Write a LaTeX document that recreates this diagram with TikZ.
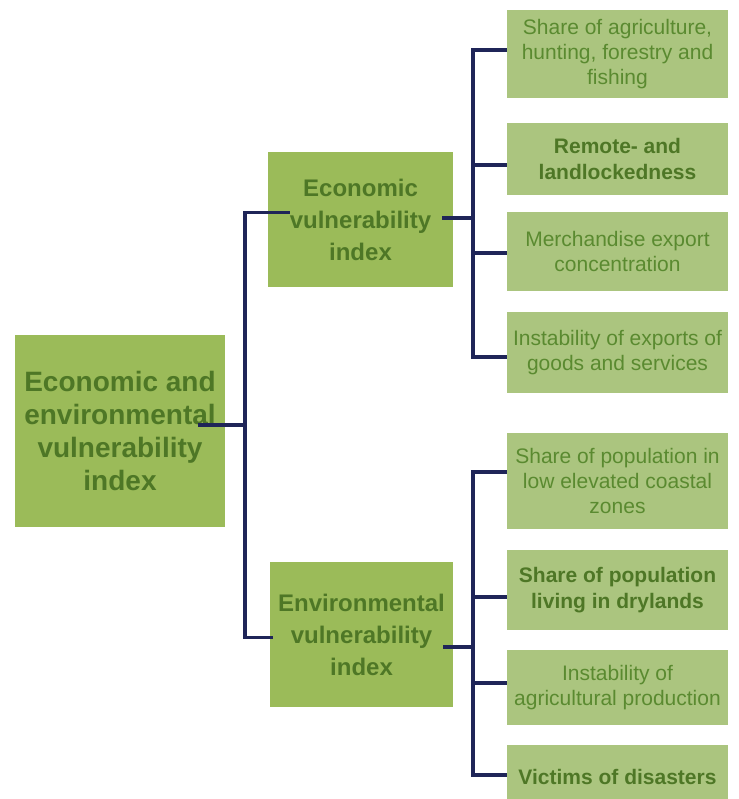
\documentclass[tikz,border=0pt]{standalone}
\usepackage{fontspec}
\setmainfont{Liberation Sans}
\definecolor{boxdark}{HTML}{9BBB59}
\definecolor{boxlight}{HTML}{ABC57F}
\definecolor{txtdark}{HTML}{4E7726}
\definecolor{txtlight}{HTML}{5A8A30}
\definecolor{navy}{HTML}{1F2558}
\begin{document}
\begin{tikzpicture}[x=1pt,y=-1pt,
  bigbox/.style={fill=boxdark,draw=none,inner sep=0pt,align=center,text=txtdark,font=\bfseries},
  leafbox/.style={fill=boxlight,draw=none,inner sep=0pt,align=center,text=txtlight,
     minimum width=221pt,font=\fontsize{21}{25}\selectfont},
  leafbold/.style={leafbox,text=txtdark,font=\fontsize{21}{26}\selectfont\bfseries},
  conn/.style={draw=navy,line width=3.4pt,line join=miter}]
\useasboundingbox (0,0) rectangle (738,799);
\begin{scope}
\clip (0,0) rectangle (738,799);
% main boxes
\node[bigbox,minimum width=210pt,minimum height=192pt,font=\fontsize{28}{33}\selectfont\bfseries]
  (root) at (120,431) {Economic and\\environmental\\vulnerability\\index};
\node[bigbox,minimum width=185pt,minimum height=135pt,font=\fontsize{24}{32}\selectfont\bfseries]
  (eco) at (360.5,219.5) {Economic\\vulnerability\\index};
\node[bigbox,minimum width=183pt,minimum height=145pt,font=\fontsize{24}{32}\selectfont\bfseries]
  (env) at (361.5,634.5) {Environmental\\vulnerability\\index};
% leaves
\node[leafbox,minimum height=88pt] (r1) at (617.5,54) {Share of agriculture,\\hunting, forestry and\\fishing};
\node[leafbold,minimum height=72pt] (r2) at (617.5,159) {Remote- and\\landlockedness};
\node[leafbox,minimum height=79pt] (r3) at (617.5,251.5) {Merchandise export\\concentration};
\node[leafbox,minimum height=81pt] (r4) at (617.5,352.5) {Instability of exports of\\goods and services};
\node[leafbox,minimum height=96pt] (r5) at (617.5,481) {Share of population in\\low elevated coastal\\zones};
\node[leafbold,minimum height=80pt] (r6) at (617.5,590) {Share of population\\living in drylands};
\node[leafbox,minimum height=75pt] (r7) at (617.5,687.5) {Instability of\\agricultural production};
\node[leafbold,minimum height=63pt] (r8) at (617.5,776.5) {Victims of disasters};
% connectors
\coordinate (busL) at (245,425);
\coordinate (busE) at (473,218);
\coordinate (busV) at (473,647);
\draw[conn] ([shift={(-27,-6)}]root.east) -- (busL);
\draw[conn] ([shift={(22,-7)}]eco.west) -| (busL) |- ([shift={(3,3)}]env.west);
\draw[conn] ([shift={(-11,-1.5)}]eco.east) -- (busE);
\draw[conn] ([shift={(0,-4)}]r1.west) -| (busE) |- ([shift={(0,4.5)}]r4.west);
\draw[conn] (busE) |- ([shift={(0,6)}]r2.west);
\draw[conn] (busE) |- ([shift={(0,1.5)}]r3.west);
\draw[conn] ([shift={(-10,12.5)}]env.east) -- (busV);
\draw[conn] ([shift={(0,-9)}]r5.west) -| (busV) |- ([shift={(0,-1.5)}]r8.west);
\draw[conn] (busV) |- ([shift={(0,7)}]r6.west);
\draw[conn] (busV) |- ([shift={(0,-4.5)}]r7.west);
\end{scope}
\end{tikzpicture}
\end{document}
